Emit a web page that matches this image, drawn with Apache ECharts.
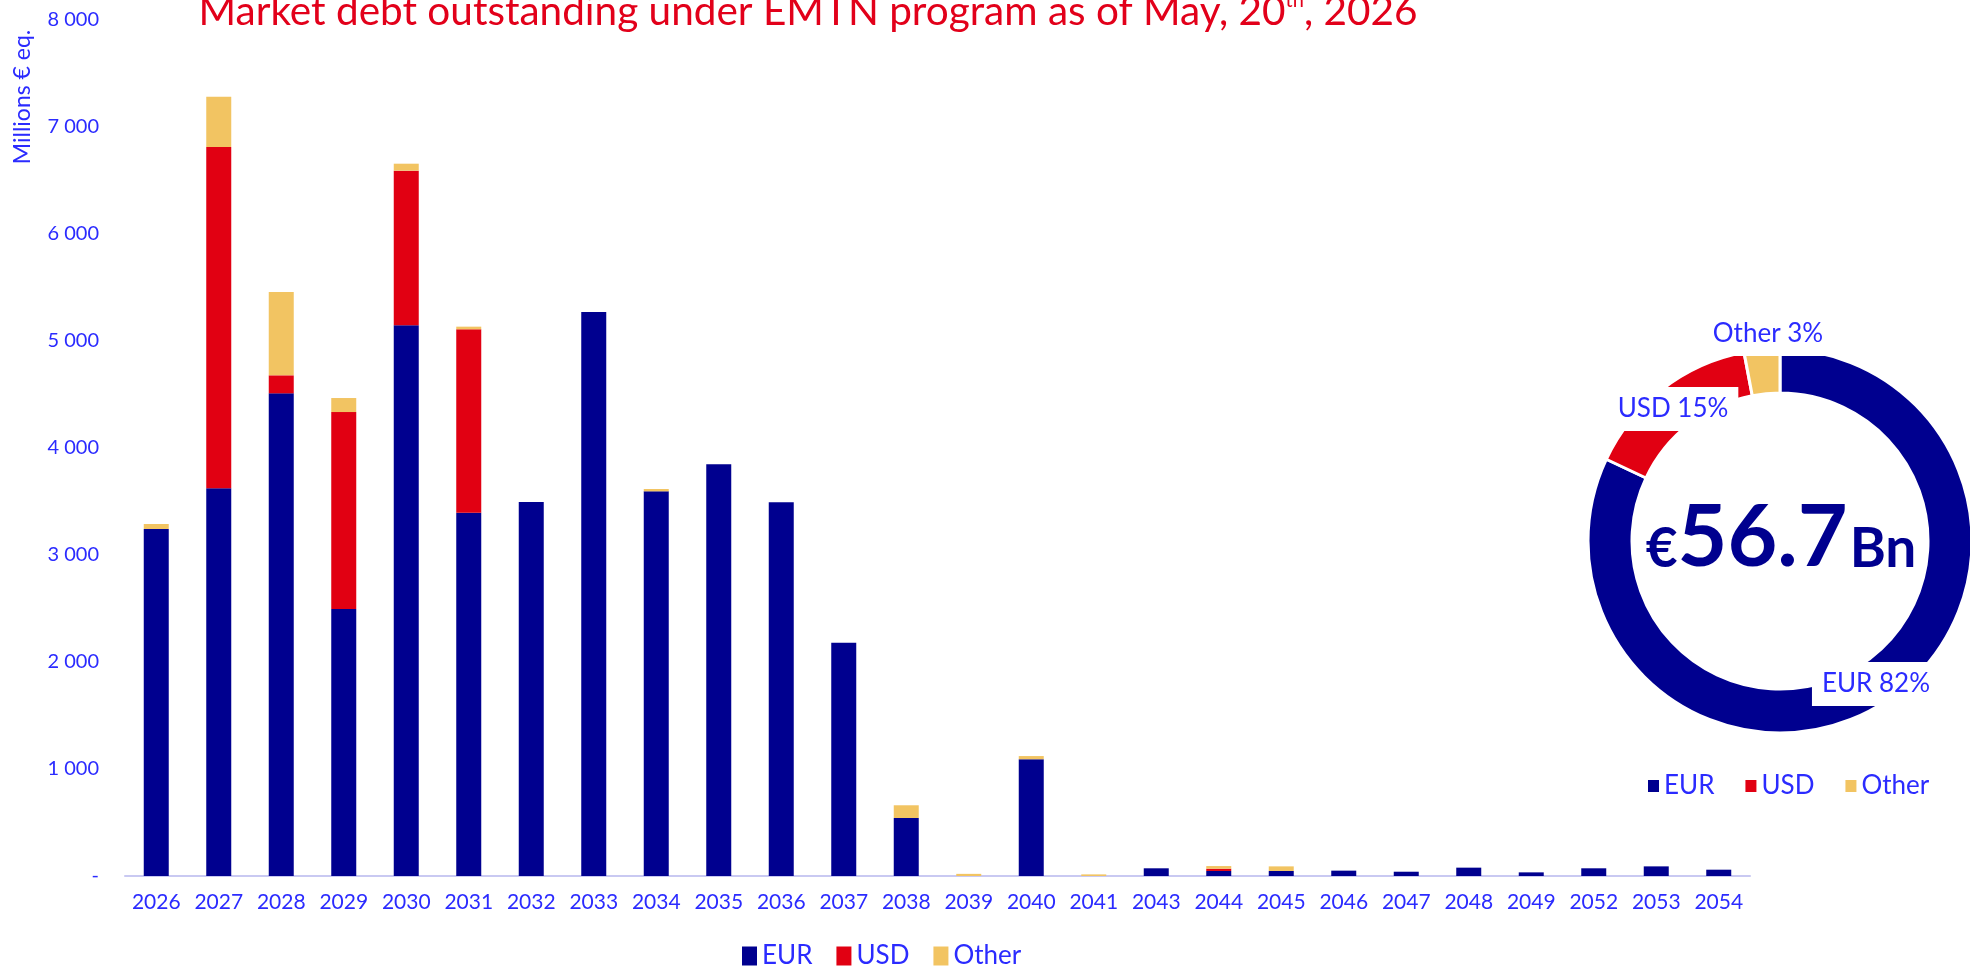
<!DOCTYPE html>
<html>
<head>
<meta charset="utf-8">
<script src="https://cdn.jsdelivr.net/npm/echarts@6/dist/echarts.min.js"></script>
<style>
  html, body { margin: 0; padding: 0; background: #fff; }
  #chart { width: 1970px; height: 968px; }
</style>
</head>
<body>
<div id="chart"></div>
<script>
// Maturity years on the x axis
const years = ['2026', '2027', '2028', '2029', '2030', '2031', '2032', '2033', '2034',
  '2035', '2036', '2037', '2038', '2039', '2040', '2041', '2043', '2044', '2045',
  '2046', '2047', '2048', '2049', '2052', '2053', '2054'];

// Millions € eq.
const eurValues = [3243, 3623, 4511, 2495, 5147, 3395, 3495, 5271, 3595, 3848, 3493, 2180,
  542, 0, 1091, 0, 72, 47, 47, 50, 40, 78, 34, 72, 90, 59];
const usdValues = [0, 3190, 168, 1841, 1445, 1714, 0, 0, 0, 0, 0, 0,
  0, 0, 0, 0, 0, 21, 0, 0, 0, 0, 0, 0, 0, 0];
const otherValues = [47, 470, 779, 131, 65, 25, 0, 0, 22, 0, 0, 0,
  119, 20, 30, 15, 0, 25, 43, 0, 0, 0, 0, 0, 0, 0];

// Currency split of the whole program (%)
const shareNames = ['EUR', 'USD', 'Other'];
const shareValues = [82, 15, 3];

const colors = ['#00008f', '#e10012', '#f2c462'];
const blue = '#2b2bff';
const navy = '#00008f';
const font = 'Lato, "Open Sans", sans-serif';

const chart = echarts.init(document.getElementById('chart'));

// where each donut label sits (text centre)
const pieLabelSpots = {
  EUR: [1876, 684],
  USD: [1673, 409],
  Other: [1768, 334]
};

chart.setOption({
  animation: false,
  color: colors,
  title: {
    text: 'Market debt outstanding under EMTN program as of May, 20{sup|th}, 2026',
    left: 803,
    textAlign: 'center',
    top: -14,
    textStyle: {
      color: '#e2001a',
      fontFamily: font,
      fontWeight: 'normal',
      fontSize: 40.5,
      rich: {
        sup: { fontSize: 20, color: '#e2001a', fontFamily: font, verticalAlign: 'top', padding: [0, 0, 16, 0] }
      }
    }
  },
  legend: [
    {
      data: shareNames,
      left: 737,
      top: 938,
      icon: 'rect',
      itemWidth: 15,
      itemHeight: 19,
      itemGap: 24,
      textStyle: { color: blue, fontSize: 26, fontFamily: font }
    },
    {
      data: shareNames,
      left: 1643,
      top: 768,
      icon: 'rect',
      itemWidth: 11,
      itemHeight: 12,
      itemGap: 31,
      textStyle: { color: blue, fontSize: 26, fontFamily: font }
    }
  ],
  grid: {
    left: 125,
    right: 220,
    top: 20,
    bottom: 92
  },
  xAxis: {
    type: 'category',
    data: years,
    axisTick: { show: false },
    axisLine: { lineStyle: { color: '#c9c9f2', width: 2 } },
    axisLabel: { color: blue, fontSize: 21, fontFamily: font, margin: 16, interval: 0 }
  },
  yAxis: {
    type: 'value',
    min: 0,
    max: 8000,
    interval: 1000,
    splitLine: { show: false },
    axisLine: { show: false },
    axisTick: { show: false },
    axisLabel: {
      color: blue,
      fontSize: 20,
      fontFamily: font,
      margin: 26,
      formatter: v => v === 0 ? '-' : String(v).replace(/\B(?=(\d{3})+(?!\d))/g, ' ')
    }
  },
  graphic: [
    {
      type: 'text',
      x: 23,
      y: 97,
      rotation: Math.PI / 2,
      style: {
        text: 'Millions € eq.',
        fill: blue,
        fontSize: 23,
        fontFamily: font,
        align: 'center',
        verticalAlign: 'middle'
      }
    },
    {
      type: 'text',
      x: 1781,
      y: 536,
      z: 10,
      style: {
        text: '{a|€}{b|56.7}{c|Bn}',
        align: 'center',
        verticalAlign: 'middle',
        rich: {
          a: { fontSize: 55, fontWeight: 'bold', fill: navy, fontFamily: font, verticalAlign: 'bottom', lineHeight: 90, padding: [0, 0, 4, 0] },
          b: { fontSize: 86, fontWeight: 'bold', fill: navy, fontFamily: font, verticalAlign: 'bottom', lineHeight: 90 },
          c: { fontSize: 55, fontWeight: 'bold', fill: navy, fontFamily: font, verticalAlign: 'bottom', lineHeight: 90, padding: [0, 0, 4, 2] }
        }
      }
    }
  ],
  series: [
    {
      name: 'EUR',
      type: 'bar',
      stack: 'total',
      barWidth: 25,
      data: eurValues
    },
    {
      name: 'USD',
      type: 'bar',
      stack: 'total',
      barWidth: 25,
      data: usdValues
    },
    {
      name: 'Other',
      type: 'bar',
      stack: 'total',
      barWidth: 25,
      data: otherValues
    },
    {
      name: 'Split',
      type: 'pie',
      center: [1780, 541],
      radius: [148, 192],
      startAngle: 90,
      clockwise: true,
      itemStyle: { borderColor: '#fff', borderWidth: 3 },
      labelLine: { show: false },
      label: {
        show: true,
        position: 'inside',
        formatter: '{b} {c}%',
        color: blue,
        fontSize: 26,
        fontFamily: font,
        backgroundColor: '#fff',
        padding: [9, 10, 9, 10]
      },
      labelLayout: params => {
        const spot = pieLabelSpots[shareNames[params.dataIndex]];
        return { x: spot[0], y: spot[1], align: 'center', verticalAlign: 'middle' };
      },
      data: shareNames.map((name, i) => ({ name: name, value: shareValues[i] }))
    }
  ]
});
</script>
</body>
</html>
